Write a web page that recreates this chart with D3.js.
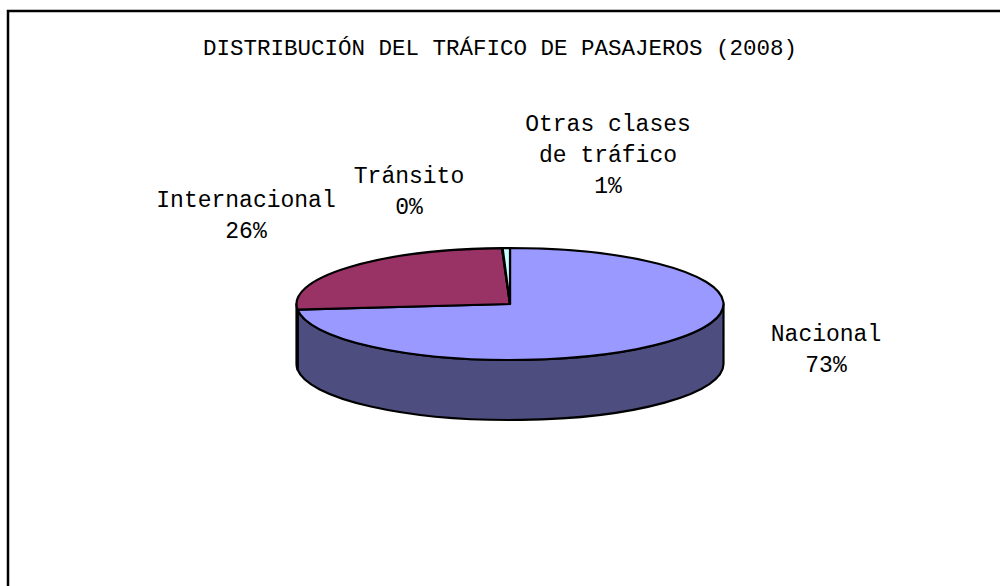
<!DOCTYPE html>
<html>
<head>
<meta charset="utf-8">
<script src="https://cdn.jsdelivr.net/npm/d3@7"></script>
<style>
  body { margin: 0; background: #fff; }
  text { font-family: "Courier New", "Nimbus Mono PS", "Nimbus Mono L", FreeMono, "Liberation Mono", monospace; fill: #000; }
</style>
</head>
<body>
<script>
'use strict';

// data
const categories = ["Nacional", "Internacional", "Tránsito", "Otras clases de tráfico"];
const shares     = [73.4, 26.0, 0.05, 0.55];
const pctLabels  = ["73%", "26%", "0%", "1%"];
const labelLines = [["Nacional"], ["Internacional"], ["Tránsito"], ["Otras clases", "de tráfico"]];

const topColors  = ["#9999ff", "#993366", "#ffffcc", "#ccffff"];
const sideColors = ["#4d4d7f", "#4d1a33", "#80805f", "#668080"];

const width = 1000, height = 586;
const cx = 510, cy = 304, rx = 213.5, ry = 56, depth = 60;

// label anchors (centre x, first baseline)
const labelPos = {
  "Nacional": [826, 341],
  "Internacional": [246, 207],
  "Tránsito": [409, 183],
  "Otras clases de tráfico": [608, 131]
};
const lineH = 31;

const svg = d3.select("body").append("svg")
    .attr("width", width)
    .attr("height", height);

// chart frame (runs off the right and bottom)
svg.append("rect")
    .attr("x", 8).attr("y", 11)
    .attr("width", 1100).attr("height", 700)
    .attr("fill", "none")
    .attr("stroke", "#000")
    .attr("stroke-width", 2.5);

svg.append("text")
    .attr("x", 500).attr("y", 55)
    .attr("text-anchor", "middle")
    .style("font-size", "22.5px")
    .text("DISTRIBUCIÓN DEL TRÁFICO DE PASAJEROS (2008)");

const pie = d3.pie().sort(null).value((d) => d.v);
const slices = pie(categories.map((c, i) => ({name: c, v: shares[i], i: i})));

// angle measured clockwise from 12 o'clock, like d3.pie
const px = (a) => cx + rx * Math.sin(a);
const py = (a) => cy - ry * Math.cos(a);

function topPath(s) {
  const large = (s.endAngle - s.startAngle) > Math.PI ? 1 : 0;
  return "M" + cx + "," + cy +
    "L" + px(s.startAngle) + "," + py(s.startAngle) +
    "A" + rx + "," + ry + " 0 " + large + " 1 " + px(s.endAngle) + "," + py(s.endAngle) + "Z";
}

function sidePath(a0, a1) {
  return "M" + px(a0) + "," + py(a0) +
    "A" + rx + "," + ry + " 0 0 1 " + px(a1) + "," + py(a1) +
    "L" + px(a1) + "," + (py(a1) + depth) +
    "A" + rx + "," + ry + " 0 0 0 " + px(a0) + "," + (py(a0) + depth) + "Z";
}

// front half of the rim is between 90° and 270°
const sides = [];
slices.forEach((s) => {
  const a0 = Math.max(s.startAngle, Math.PI / 2),
        a1 = Math.min(s.endAngle, 3 * Math.PI / 2);
  if (a1 > a0) sides.push({a0: a0, a1: a1, i: s.data.i});
});

svg.append("g").selectAll("path")
    .data(sides)
  .enter().append("path")
    .attr("d", (d) => sidePath(d.a0, d.a1))
    .attr("fill", (d) => sideColors[d.i])
    .attr("stroke", "#000")
    .attr("stroke-width", 2.2)
    .attr("stroke-linejoin", "round");

svg.append("g").selectAll("path")
    .data(slices)
  .enter().append("path")
    .attr("d", topPath)
    .attr("fill", (d) => topColors[d.data.i])
    .attr("stroke", "#000")
    .attr("stroke-width", 2.2)
    .attr("stroke-linejoin", "round");

// labels
const lab = svg.append("g").selectAll("text")
    .data(categories)
  .enter().append("text")
    .attr("text-anchor", "middle")
    .style("font-size", "23px")
    .attr("x", (d) => labelPos[d][0])
    .attr("y", (d) => labelPos[d][1]);

lab.each(function(d, i) {
  const t = d3.select(this);
  labelLines[i].concat([pctLabels[i]]).forEach((line, k) => {
    t.append("tspan")
        .attr("x", labelPos[d][0])
        .attr("y", labelPos[d][1] + k * lineH)
        .text(line);
  });
});
</script>
</body>
</html>
